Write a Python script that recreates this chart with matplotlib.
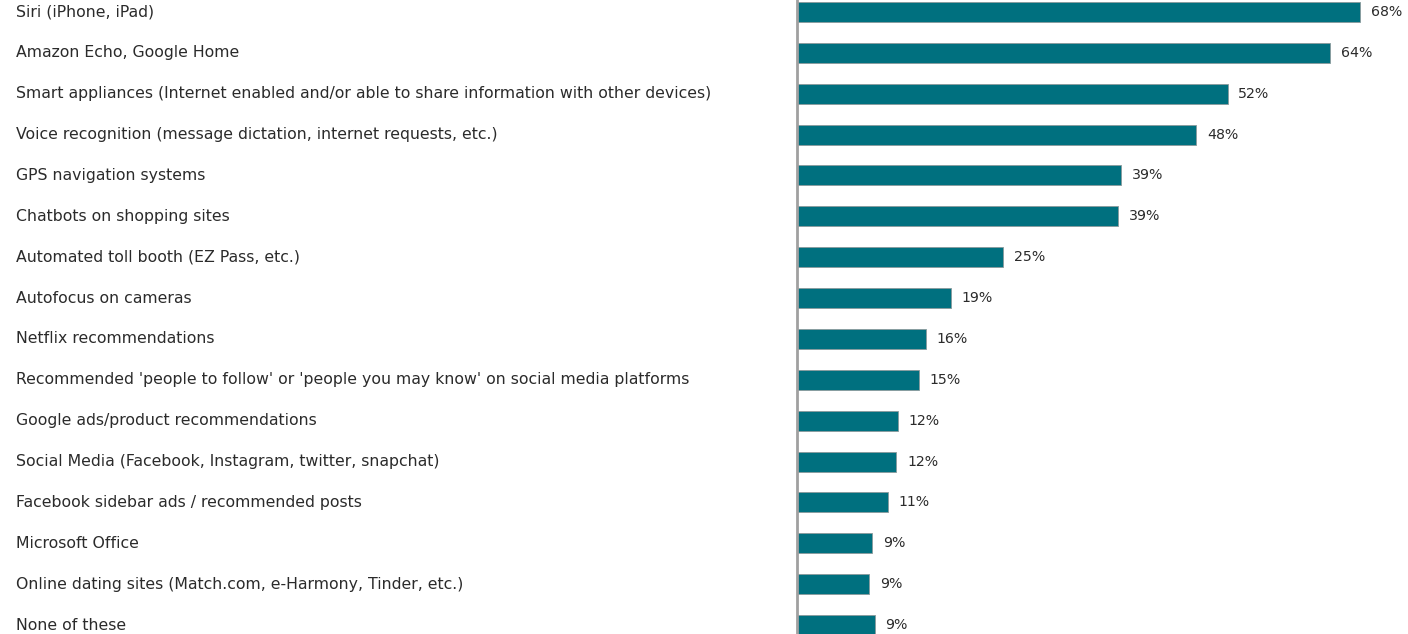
import matplotlib.pyplot as plt

# categories, top to bottom
labels = [
    "Siri (iPhone, iPad)",
    "Amazon Echo, Google Home",
    "Smart appliances (Internet enabled and/or able to share information with other devices)",
    "Voice recognition (message dictation, internet requests, etc.)",
    "GPS navigation systems",
    "Chatbots on shopping sites",
    "Automated toll booth (EZ Pass, etc.)",
    "Autofocus on cameras",
    "Netflix recommendations",
    "Recommended 'people to follow' or 'people you may know' on social media platforms",
    "Google ads/product recommendations",
    "Social Media (Facebook, Instagram, twitter, snapchat)",
    "Facebook sidebar ads / recommended posts",
    "Microsoft Office",
    "Online dating sites (Match.com, e-Harmony, Tinder, etc.)",
    "None of these",
]
# bar lengths (percent)
values = [68.0, 64.4, 52.0, 48.2, 39.1, 38.8, 24.9, 18.6, 15.6, 14.7, 12.2, 12.0, 11.0, 9.1, 8.7, 9.4]
value_labels = ["68%", "64%", "52%", "48%", "39%", "39%", "25%", "19%", "16%", "15%",
                "12%", "12%", "11%", "9%", "9%", "9%"]

bar_color = "#00707f"
text_color = "#2b2b2b"

plt.rcParams["font.family"] = ["DejaVu Sans"]

fig = plt.figure(figsize=(14.08, 6.34), dpi=100)
fig.patch.set_facecolor("white")
ax = fig.add_axes([797 / 1408, 0, 1 - 797 / 1408, 1])

pos = list(range(len(labels)))
ax.barh(pos, values, height=0.49, color=bar_color, edgecolor="#8a9a9c", linewidth=0.6)

ax.set_ylim(15.22, -0.294)
ax.set_xlim(0, 73.8)

for p, v, t in zip(pos, values, value_labels):
    ax.text(v + 1.3, p, t, va="center", ha="left", fontsize=10.2, color=text_color)

for p, lab in zip(pos, labels):
    fig.text(16 / 1408, 1 - (12 + 40.87 * p) / 634, lab, ha="left", va="center",
             fontsize=11.3, color=text_color)

ax.set_xticks([])
ax.set_yticks([])
for s in ["top", "right", "bottom"]:
    ax.spines[s].set_visible(False)
ax.spines["left"].set_color("#a0a0a0")
ax.spines["left"].set_linewidth(2)
ax.patch.set_alpha(0)

fig.savefig("out.png", dpi=100, facecolor="white")
